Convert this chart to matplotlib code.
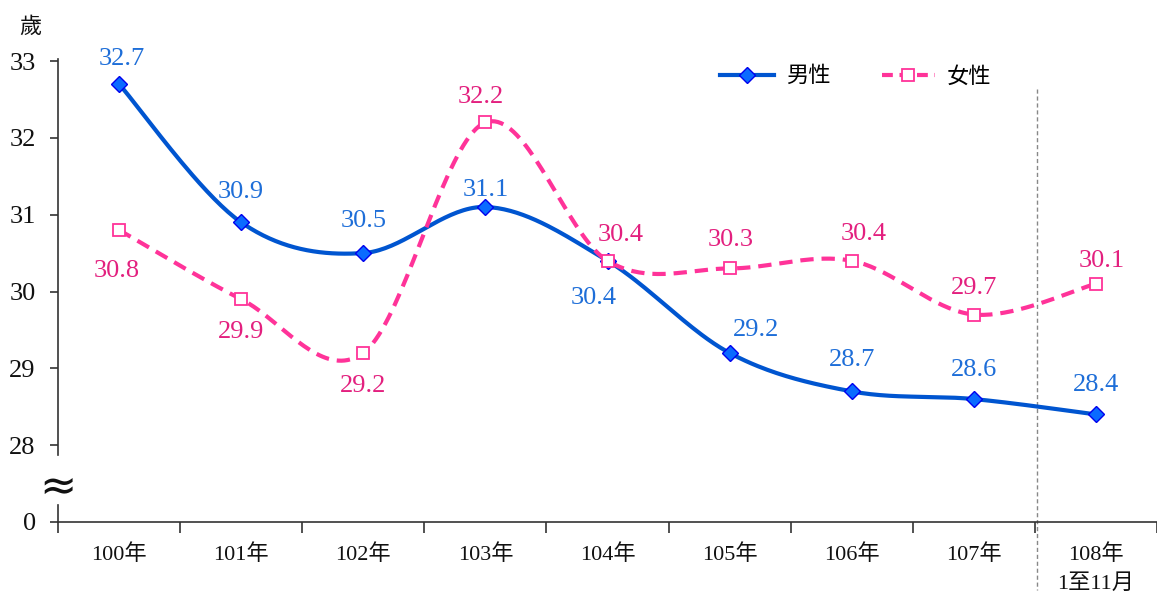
import numpy as np
import matplotlib
matplotlib.use("Agg")
import matplotlib.pyplot as plt
from matplotlib.lines import Line2D

# ---- data ----
categories = ["100年", "101年", "102年", "103年", "104年", "105年", "106年", "107年", "108年\n1至11月"]
male = [32.7, 30.9, 30.5, 31.1, 30.4, 29.2, 28.7, 28.6, 28.4]
female = [30.8, 29.9, 29.2, 32.2, 30.4, 30.3, 30.4, 29.7, 30.1]
ytick_values = [27, 28, 29, 30, 31, 32, 33]
ytick_labels = ["0", "28", "29", "30", "31", "32", "33"]

# label offsets (pixels)
male_off = [(3, 25), (0, 30), (0, 32), (0, 17), (-14, -37), (26, 23), (0, 31), (0, 29), (0, 29)]
female_off = [(-2, -41), (0, -33), (0, -33), (-5, 25), (13, 26), (1, 28), (12, 27), (0, 27), (6, 23)]

FONT = ["Liberation Serif", "Noto Sans CJK TC"]
plt.rcParams["font.family"] = FONT

MALE_LINE = "#0055D0"
MALE_FACE = "#0A6BFF"
MALE_EDGE = "#0000EE"
MALE_TXT = "#1E6ED8"
FEM_LINE = "#FF3399"
FEM_TXT = "#E3207F"


def smooth(y, n=40):
    y = np.asarray(y, float)
    x = np.arange(len(y), dtype=float)
    P = np.column_stack([x, y])
    out = []
    for i in range(len(P) - 1):
        p0 = P[i - 1] if i > 0 else P[i]
        p1 = P[i]
        p2 = P[i + 1]
        p3 = P[i + 2] if i + 2 < len(P) else P[i + 1]
        c1 = p1 + (p2 - p0) / 6.0
        c2 = p2 - (p3 - p1) / 6.0
        t = np.linspace(0, 1, n)[:, None]
        seg = ((1 - t) ** 3) * p1 + 3 * ((1 - t) ** 2) * t * c1 + 3 * (1 - t) * t ** 2 * c2 + t ** 3 * p2
        if i > 0:
            seg = seg[1:]
        out.append(seg)
    out = np.vstack(out)
    return out[:, 0], out[:, 1]


fig = plt.figure(figsize=(11.57, 5.92), dpi=100)
ax = fig.add_axes([58 / 1157, 1 - 522 / 592, 1099 / 1157, 461 / 592])
ax.set_xlim(-0.5, len(categories) - 0.5)
ax.set_ylim(27, 33)

xi = np.arange(len(categories))

# lines
mx, my = smooth(male)
ax.plot(mx, my, color=MALE_LINE, lw=3.0, solid_capstyle="round", zorder=3)
ax.plot(xi, male, linestyle="none", marker="D", markersize=8,
        markerfacecolor=MALE_FACE, markeredgecolor=MALE_EDGE, markeredgewidth=1.0, zorder=5)

fx, fy = smooth(female)
ax.plot(fx, fy, color=FEM_LINE, lw=3.0, dashes=(3.2, 1.9), zorder=4)
ax.plot(xi, female, linestyle="none", marker="s", markersize=8.5,
        markerfacecolor="white", markeredgecolor=FEM_LINE, markeredgewidth=1.3, zorder=6)

# data labels
for i, v in enumerate(male):
    ax.annotate(f"{v:.1f}", (i, v), xytext=male_off[i], textcoords="offset pixels",
                ha="center", va="center", color=MALE_TXT, fontsize=19, zorder=7)
for i, v in enumerate(female):
    ax.annotate(f"{v:.1f}", (i, v), xytext=female_off[i], textcoords="offset pixels",
                ha="center", va="center", color=FEM_TXT, fontsize=19, zorder=7)

# spines
for s in ["top", "right", "left"]:
    ax.spines[s].set_visible(False)
ax.spines["bottom"].set_color("#333333")
ax.spines["bottom"].set_linewidth(1.2)

# broken left axis drawn manually
ax.plot([-0.5, -0.5], [33.02, 27.87], color="#333333", lw=1.2, clip_on=False, zorder=2)
ax.plot([-0.5, -0.5], [27.22, 27.0], color="#333333", lw=1.2, clip_on=False, zorder=2)
ax.text(-0.5, 27.45, "≈", ha="center", va="center", fontsize=32, color="#111111",
        family=["DejaVu Sans"], zorder=8)

# y ticks
ax.set_yticks(ytick_values)
ax.set_yticklabels(ytick_labels)
ax.tick_params(axis="y", direction="out", length=6, width=1.2, color="#333333",
               labelsize=19, pad=10, labelcolor="#111111")

# x ticks: boundaries as major ticks, labels on minor
ax.set_xticks(np.arange(-0.5, len(categories), 1.0))
ax.set_xticklabels([])
ax.set_xticks(xi, minor=True)
ax.set_xticklabels(categories, minor=True, fontsize=16, linespacing=1.6, va="top")
ax.tick_params(axis="x", which="major", direction="out", length=8, width=1.2, color="#333333")
ax.tick_params(axis="x", which="minor", length=0, pad=16, labelcolor="#111111")

# vertical dashed separator
ax.plot([7.52, 7.52], [32.64, 26.12], color="#888888", lw=1.0, dashes=(3, 2), clip_on=False, zorder=1)

# unit label
fig.text(30 / 1157, 1 - 28 / 592, "歲", ha="center", va="center", fontsize=16, color="#111111")

# legend
handles = [
    Line2D([], [], color=MALE_LINE, lw=3.0, marker="D", markersize=8,
           markerfacecolor=MALE_FACE, markeredgecolor=MALE_EDGE),
    Line2D([], [], color=FEM_LINE, lw=3.0, dashes=(2.6, 1.6), marker="s", markersize=8.5,
           markerfacecolor="white", markeredgecolor=FEM_LINE, markeredgewidth=1.3),
]
fig.legend(handles, ["男性", "女性"], loc="center", bbox_to_anchor=(856 / 1157, 1 - 77 / 592),
           ncol=2, frameon=False, fontsize=16, handlelength=2.4, columnspacing=2.3, handletextpad=0.55)

fig.savefig("out.png", dpi=100)
